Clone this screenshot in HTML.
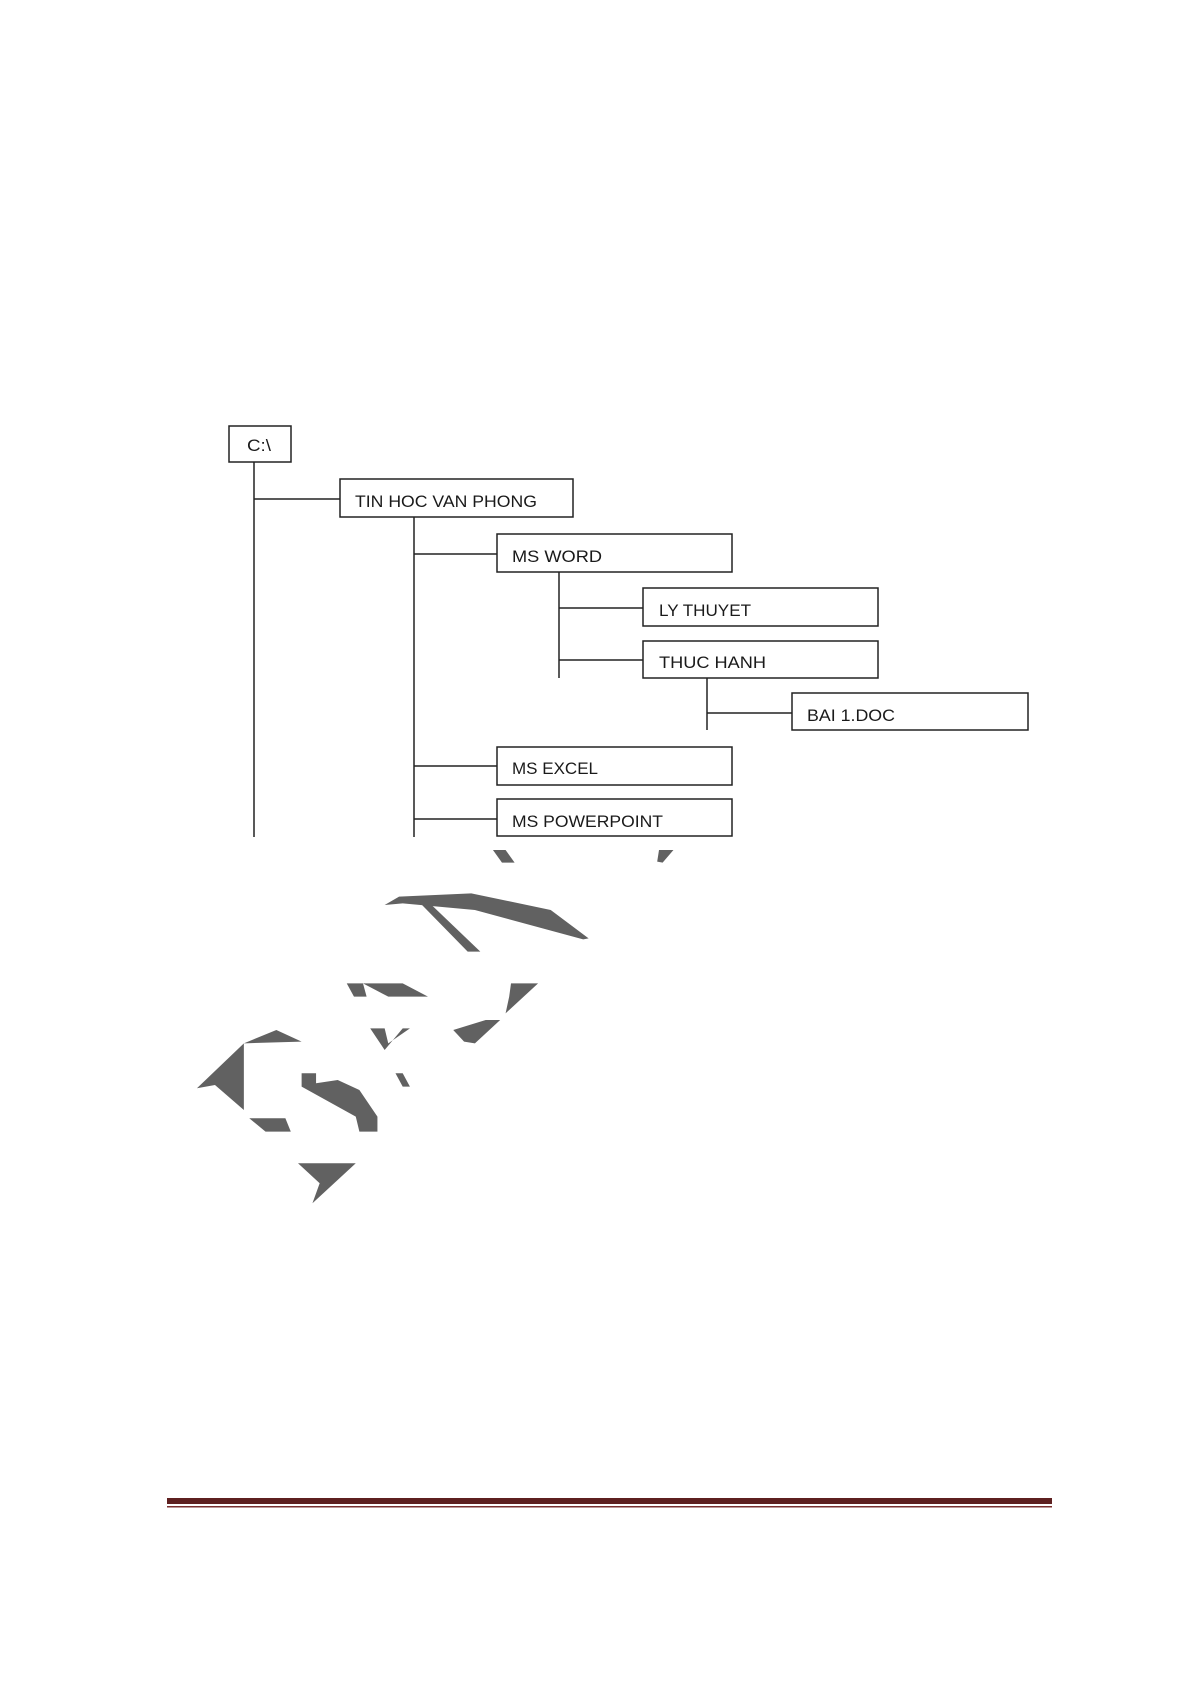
<!DOCTYPE html>
<html><head><meta charset="utf-8"><style>html,body{margin:0;padding:0;background:#fff}svg{display:block}</style></head>
<body>
<svg width="1192" height="1685" viewBox="0 0 1192 1685" xmlns="http://www.w3.org/2000/svg" font-family="Liberation Sans, sans-serif" font-size="17" fill="#1a1a1a">
<g stroke="#222" stroke-width="1.5" fill="none">
<line x1="254" y1="462" x2="254" y2="837"/>
<line x1="254" y1="499" x2="340" y2="499"/>
<line x1="414" y1="517" x2="414" y2="837"/>
<line x1="414" y1="554" x2="497" y2="554"/>
<line x1="414" y1="766" x2="497" y2="766"/>
<line x1="414" y1="819" x2="497" y2="819"/>
<line x1="559" y1="572" x2="559" y2="678"/>
<line x1="559" y1="608" x2="643" y2="608"/>
<line x1="559" y1="660" x2="643" y2="660"/>
<line x1="707" y1="678" x2="707" y2="730"/>
<line x1="707" y1="713" x2="792" y2="713"/>
<rect x="229" y="426" width="62" height="36"/>
<rect x="340" y="479" width="233" height="38"/>
<rect x="497" y="534" width="235" height="38"/>
<rect x="643" y="588" width="235" height="38"/>
<rect x="643" y="641" width="235" height="37"/>
<rect x="792" y="693" width="236" height="37"/>
<rect x="497" y="747" width="235" height="38"/>
<rect x="497" y="799" width="235" height="37"/>
</g>
<g stroke="none">
<text x="247" y="451" textLength="24" lengthAdjust="spacingAndGlyphs">C:\</text>
<text x="355" y="507" textLength="182" lengthAdjust="spacingAndGlyphs">TIN HOC VAN PHONG</text>
<text x="512" y="562" textLength="90" lengthAdjust="spacingAndGlyphs">MS WORD</text>
<text x="659" y="616" textLength="92" lengthAdjust="spacingAndGlyphs">LY THUYET</text>
<text x="659" y="668" textLength="107" lengthAdjust="spacingAndGlyphs">THUC HANH</text>
<text x="807" y="721" textLength="88" lengthAdjust="spacingAndGlyphs">BAI 1.DOC</text>
<text x="512" y="774" textLength="86" lengthAdjust="spacingAndGlyphs">MS EXCEL</text>
<text x="512" y="827" textLength="151" lengthAdjust="spacingAndGlyphs">MS POWERPOINT</text>
</g>
<g fill="#616161" transform="translate(150,850) scale(0.361,0.3333)">
<polygon points="740,150 780,165 915,305 880,305"/>
<polygon points="650,165 690,140 890,130 1110,180 1215,265 1200,268 900,180 700,160"/>
<polygon points="950,0 985,0 1010,38 975,38"/>
<polygon points="1410,0 1450,0 1420,38 1405,35"/>
<polygon points="545,400 590,400 600,440 565,440"/>
<polygon points="590,400 700,400 770,440 660,440"/>
<polygon points="1000,400 1075,400 985,490 995,440"/>
<polygon points="840,540 930,510 970,510 900,580 870,575"/>
<polygon points="610,535 650,535 660,580 720,535 700,535 650,600"/>
<polygon points="130,715 260,580 350,540 420,575 260,580 260,780 180,705"/>
<polygon points="420,670 460,670 460,700 520,690 580,720 630,800 630,845 580,845 570,800 420,710"/>
<polygon points="680,670 700,670 720,710 700,710"/>
<polygon points="275,805 375,805 390,845 320,845"/>
<polygon points="410,940 570,940 450,1060 470,1000"/>
</g>
<rect x="167" y="1498" width="885" height="6" fill="#5e2020"/>
<rect x="167" y="1506" width="885" height="1.5" fill="#7a3030"/>
</svg>
</body></html>
